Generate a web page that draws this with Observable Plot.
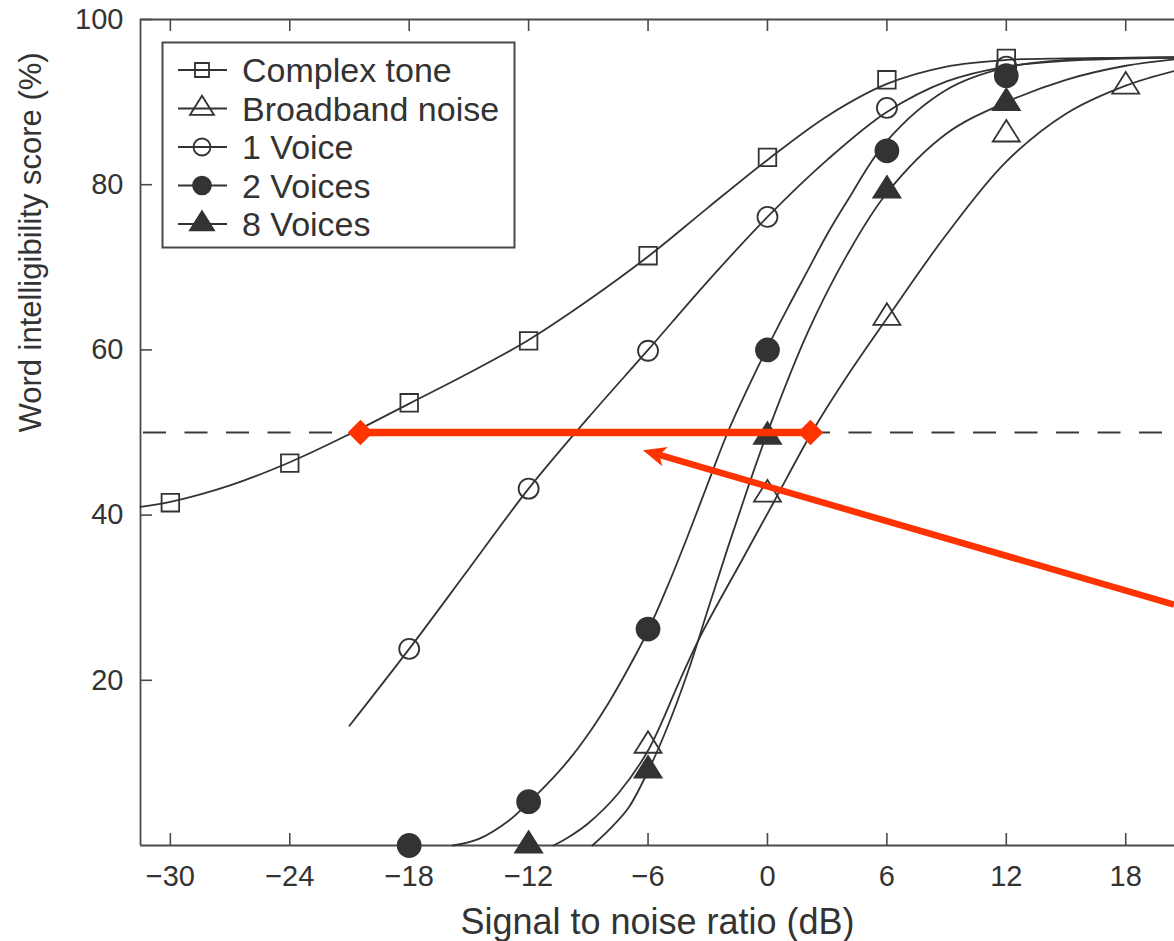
<!DOCTYPE html>
<html><head><meta charset="utf-8">
<script src="https://cdn.jsdelivr.net/npm/d3@7"></script>
<script src="https://cdn.jsdelivr.net/npm/@observablehq/plot@0.6"></script>
<style>
html,body{margin:0;padding:0;background:#fff;}
#wrap{position:relative;width:1174px;height:941px;overflow:hidden;}
</style></head><body><div id="wrap"></div>
<script>
// ---------- data ----------
const seriesNames = ["Complex tone", "Broadband noise", "1 Voice", "2 Voices", "8 Voices"];

// measured points (SNR dB, score %)
const toneX = [-30, -24, -18, -12, -6, 0, 6, 12];
const toneY = [41.5, 46.3, 53.6, 61.1, 71.4, 83.3, 92.7, 95.3];
const noiseX = [-6, 0, 6, 12, 18];
const noiseY = [12.1, 42.5, 63.9, 86.1, 91.9];
const voice1X = [-18, -12, -6, 0, 6, 12];
const voice1Y = [23.8, 43.2, 59.9, 76.1, 89.3, 94.3];
const voice2X = [-18, -12, -6, 0, 6, 12];
const voice2Y = [0, 5.3, 26.2, 60, 84.1, 93.2];
const voice8X = [-12, -6, 0, 6, 12];
const voice8Y = [0, 9.1, 49.5, 79.3, 89.9];

// fitted curves
const toneFitX = [-31.5, -30, -27, -24, -21, -18, -15, -12, -9, -6, -3, 0, 3, 6, 9, 12, 15, 20.5];
const toneFitY = [41.0, 41.6, 43.6, 46.4, 49.8, 53.5, 57.2, 61.2, 66, 71.3, 77.2, 83, 88.3, 92.2, 94.3, 95.1, 95.3, 95.4];
const noiseFitX = [-10.75, -10, -9, -7.5, -6, -4.4, -3.4, -1.2, 0.3, 2.3, 4, 6, 9, 12, 15, 18, 20.5];
const noiseFitY = [0, 1, 2.7, 6.3, 11.5, 20, 25.2, 34.9, 41.5, 50.3, 56.8, 63.8, 74, 82.8, 88.6, 92, 93.8];
const voice1FitX = [-21, -18, -15, -12, -9, -6, -3, 0, 3, 6, 9, 12, 15, 20.5];
const voice1FitY = [14.5, 23.8, 33.5, 43.2, 51.8, 60, 68.3, 76.1, 83, 88.8, 92.5, 94.3, 95, 95.4];
const voice2FitX = [-15.8, -14.5, -13, -12, -11, -10, -9, -8, -7, -6, -5, -4, -3, -2, -1, 0, 1, 2, 3, 4, 6, 9, 12, 15, 20.5];
const voice2FitY = [0, 0.8, 3, 5.2, 7.6, 10.3, 13.5, 17.2, 21.4, 26, 31.5, 37.5, 43.8, 50, 55.3, 60.3, 65, 69.5, 74, 78, 85.3, 91.5, 94.2, 95.1, 95.4];
const voice8FitX = [-8.8, -8, -7, -6, -5, -4, -3, -2, -1, 0, 2, 4, 6, 9, 12, 15, 18, 20.5];
const voice8FitY = [0, 1.8, 4.5, 9, 14.5, 21, 28.5, 36, 43.2, 50, 62, 71.5, 79, 86.2, 90, 92.7, 94.4, 95.2];

// 50% reference and red annotation
const halfLevel = [50];
const redSegX = [-20.45, 2.16];
const redSegY = [50, 50];
const arrowX = [20.45, -6.23];   // tail, tip
const arrowY = [29.1, 47.8];

// axes
const xTicks = [-30, -24, -18, -12, -6, 0, 6, 12, 18];
const yTicks = [20, 40, 60, 80, 100];
const xTitle = "Signal to noise ratio (dB)";
const yTitle = "Word intelligibility score (%)";

// ---------- styles ----------
const ink = "#333333";
const frameInk = "#4a4a4a";
const red = "#ff3300";
const font = "'Liberation Sans', Arial, Helvetica, sans-serif";
const triSymbol = {draw(ctx, size) {
  const b = Math.sqrt(size) * 1.45, h = b * 0.8;
  ctx.moveTo(0, -2 * h / 3); ctx.lineTo(b / 2, h / 3); ctx.lineTo(-b / 2, h / 3); ctx.closePath();
}};
const styleOf = {
  "Complex tone":    {symbol: "square", fill: "none", r: 9.9, lsize: 196},
  "Broadband noise": {symbol: triSymbol, fill: "none", r: 10.5, lsize: 274},
  "1 Voice":         {symbol: "circle", fill: "none", r: 10, lsize: 227},
  "2 Voices":        {symbol: "circle", fill: ink, r: 11.5, lsize: 250},
  "8 Voices":        {symbol: triSymbol, fill: ink, r: 10.5, lsize: 274}
};

// ---------- tables ----------
const rows = (name, xs, ys) => xs.map((x, i) => ({series: name, x, y: ys[i]}));
const pointSets = {
  "Complex tone": rows("Complex tone", toneX, toneY),
  "Broadband noise": rows("Broadband noise", noiseX, noiseY),
  "1 Voice": rows("1 Voice", voice1X, voice1Y),
  "2 Voices": rows("2 Voices", voice2X, voice2Y),
  "8 Voices": rows("8 Voices", voice8X, voice8Y)
};
const fitRows = [
  ...rows("Complex tone", toneFitX, toneFitY),
  ...rows("Broadband noise", noiseFitX, noiseFitY),
  ...rows("1 Voice", voice1FitX, voice1FitY),
  ...rows("2 Voices", voice2FitX, voice2FitY),
  ...rows("8 Voices", voice8FitX, voice8FitY)
];
const redRows = redSegX.map((x, i) => ({x, y: redSegY[i]}));

// arrow drawn through the plot's scales
function redArrow(index, scales) {
  const x1 = scales.x(arrowX[0]), y1 = scales.y(arrowY[0]);
  const x2 = scales.x(arrowX[1]), y2 = scales.y(arrowY[1]);
  const ang = Math.atan2(y2 - y1, x2 - x1);
  const L = 23, W = 10, N = 6;
  const bx = x2 - (L - N) * Math.cos(ang), by = y2 - (L - N) * Math.sin(ang);
  const g = d3.create("svg:g");
  g.append("line").attr("x1", x1).attr("y1", y1).attr("x2", bx).attr("y2", by)
    .attr("stroke", red).attr("stroke-width", 6.5);
  g.append("path").attr("d", `M0,0L${-L},${-W}L${-L + N},0L${-L},${W}Z`)
    .attr("transform", `translate(${x2},${y2}) rotate(${ang * 180 / Math.PI})`)
    .attr("fill", red);
  return g.node();
}

const fmt = d => d < 0 ? "\u2212" + Math.abs(d) : String(d);

const chart = Plot.plot({
  width: 1174, height: 941,
  marginLeft: 140, marginRight: 0, marginTop: 19, marginBottom: 96,
  style: {fontFamily: font, background: "white", color: ink},
  x: {domain: [-31.5, 20.45]},
  y: {domain: [0, 100]},
  marks: [
    Plot.axisX(xTicks, {anchor: "bottom", tickSize: 0, tickPadding: 20, fontSize: 29, tickFormat: fmt, label: null}),
    Plot.axisY(yTicks, {anchor: "left", tickSize: 0, tickPadding: 17, fontSize: 29, tickFormat: fmt, label: null}),
    Plot.text([xTitle], {frameAnchor: "bottom", dy: 88, lineAnchor: "bottom", fontSize: 36, fill: ink}),
    Plot.text([yTitle], {frameAnchor: "left", dx: -122, rotate: -90, lineAnchor: "top", fontSize: 31, fill: ink}),
    // frame (left, bottom, top) and inward ticks
    Plot.ruleX([-31.5], {stroke: frameInk, strokeWidth: 1.8}),
    Plot.ruleY([0, 100], {stroke: frameInk, strokeWidth: 1.8}),
    Plot.ruleX(xTicks, {x: d => d, y1: 0, y2: 1.45, stroke: frameInk, strokeWidth: 1.6}),
    Plot.ruleX(xTicks, {x: d => d, y1: 98.55, y2: 100, stroke: frameInk, strokeWidth: 1.6}),
    Plot.ruleY(yTicks, {y: d => d, x1: -31.5, x2: -30.9, stroke: frameInk, strokeWidth: 1.6}),
    // 50% dashed reference
    Plot.ruleY(halfLevel, {stroke: "#3a3a3a", strokeWidth: 1.8, strokeDasharray: "23,18.5", strokeDashoffset: -3}),
    // fitted curves
    Plot.line(fitRows, {x: "x", y: "y", z: "series", curve: "catmull-rom", stroke: ink, strokeWidth: 1.8}),
    // data markers
    ...seriesNames.map(name => Plot.dot(pointSets[name], {
      x: "x", y: "y", symbol: styleOf[name].symbol, r: styleOf[name].r,
      fill: styleOf[name].fill, stroke: ink, strokeWidth: 1.8
    })),
    // red annotation
    Plot.line(redRows, {x: "x", y: "y", stroke: red, strokeWidth: 7.5}),
    Plot.dot(redRows, {x: "x", y: "y", symbol: "diamond2", r: 11.5, fill: red}),
    redArrow
  ]
});
const wrap = document.getElementById("wrap");
wrap.appendChild(chart);

// ---------- legend (overlay inside the axes box) ----------
const lg = d3.create("svg").attr("width", 356).attr("height", 209)
  .style("position", "absolute").style("left", "161px").style("top", "41px")
  .style("font-family", font);
lg.append("rect").attr("x", 1.5).attr("y", 1.5).attr("width", 352).attr("height", 205)
  .attr("fill", "white").attr("stroke", frameInk).attr("stroke-width", 2);
seriesNames.forEach((name, i) => {
  const cy = 29 + i * 38.5;
  const st = styleOf[name];
  lg.append("line").attr("x1", 17).attr("x2", 66).attr("y1", cy).attr("y2", cy)
    .attr("stroke", ink).attr("stroke-width", 1.8);
  const type = st.symbol === "square" ? d3.symbolSquare : st.symbol === "circle" ? d3.symbolCircle : st.symbol;
  lg.append("path").attr("d", d3.symbol().type(type).size(st.lsize)())
    .attr("transform", `translate(41,${cy})`)
    .attr("fill", st.fill).attr("stroke", ink).attr("stroke-width", 1.8);
  lg.append("text").attr("x", 81).attr("y", cy).attr("dy", "0.36em")
    .attr("font-size", 34).attr("fill", ink).text(name);
});
wrap.appendChild(lg.node());
</script>
</body></html>
